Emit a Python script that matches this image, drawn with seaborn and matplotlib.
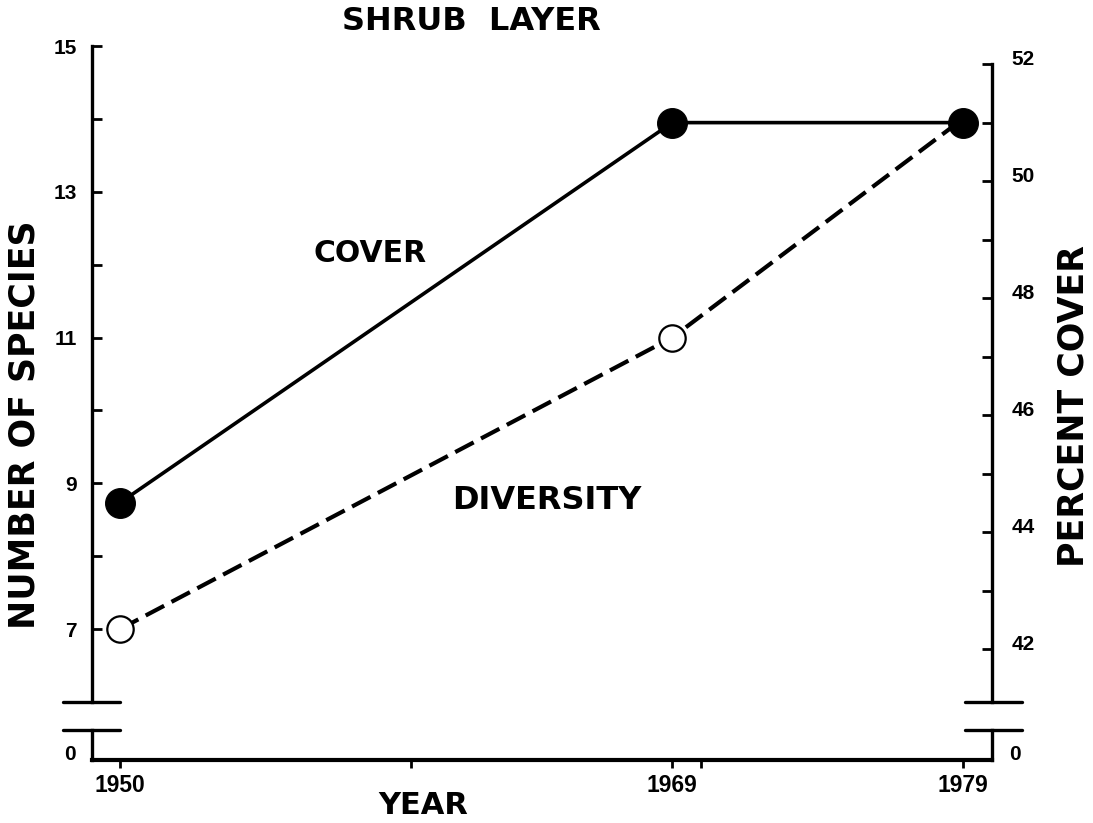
import matplotlib
matplotlib.use("Agg")
import matplotlib.pyplot as plt
import matplotlib.transforms as mtransforms
from matplotlib.lines import Line2D
from matplotlib.font_manager import FontProperties
import seaborn as sns

# ---- data ----
years = [1950, 1969, 1979]
cover_pct = [44.5, 51.0, 51.0]          # right axis, PERCENT COVER
diversity = [7.0, 11.0, 14.0]            # left axis, NUMBER OF SPECIES
left_major = [7, 9, 11, 13, 15]
left_minor = [8, 10, 12, 14]
right_major = [42, 44, 46, 48, 50, 52]
right_minor = [43, 45, 47, 49, 51]
x_ticks = [1950, 1960, 1969, 1970, 1979]
x_ticklabels = ["1950", "", "1969", "", "1979"]

sns.set_theme(style="white")
plt.rcParams["font.family"] = ["DejaVu Sans"]
plt.rcParams["font.weight"] = "bold"
plt.rcParams["text.color"] = "black"
plt.rcParams["axes.labelcolor"] = "black"
plt.rcParams["xtick.color"] = "black"
plt.rcParams["ytick.color"] = "black"
plt.rcParams["xtick.labelcolor"] = "black"
plt.rcParams["ytick.labelcolor"] = "black"

W, H = 1093, 823
fig = plt.figure(figsize=(W / 100, H / 100), dpi=100)

def fx(px):
    return px / W

def fy(py):
    return 1 - py / H

AX_L, AX_R, AX_T, AX_B = 92, 992, 46, 702
STRIP_T, STRIP_B = 730, 760
XLIM = (1949.04, 1980.0)
SPW = 2.4
TICKFONT = dict(family="Liberation Sans", weight="bold", size=15)

ax = fig.add_axes([fx(AX_L), fy(AX_B), fx(AX_R - AX_L), (AX_B - AX_T) / H])
ax2 = ax.twinx()
axb = fig.add_axes([fx(AX_L), fy(STRIP_B), fx(AX_R - AX_L), (STRIP_B - STRIP_T) / H])

# ---- lines ----
sns.lineplot(x=years, y=diversity, ax=ax, color="black", linewidth=3.0,
             linestyle=(0, (5, 2)), marker="o", markersize=19,
             markerfacecolor="white", markeredgecolor="black",
             markeredgewidth=1.6, markevery=[0, 1], zorder=3)
sns.lineplot(x=years, y=cover_pct, ax=ax2, color="black", linewidth=2.6,
             marker="o", markersize=21.5, markerfacecolor="black",
             markeredgecolor="black", zorder=4)

# ---- main (left) axis ----
ax.set_xlim(*XLIM)
ax.set_ylim(6, 15)
ax.set_xticks([])
ax.set_yticks(left_major)
ax.set_yticks(left_minor, minor=True)
ax.set_yticklabels([str(v) for v in left_major])
ax.tick_params(axis="y", which="both", direction="in", length=7, width=2,
               color="black", left=True, right=False, pad=11)
for lab in ax.get_yticklabels():
    lab.set_fontproperties(FontProperties(**TICKFONT))
    lab.set_color("black")
for s in ["top", "bottom", "right"]:
    ax.spines[s].set_visible(False)
ax.spines["left"].set_linewidth(SPW)
ax.spines["left"].set_color("black")
ax.set_xlabel("")
ax.set_ylabel("")
ax.patch.set_alpha(0)

# ---- right axis ----
ax2.set_xlim(*XLIM)
ax2.set_ylim(41.094, 52.31)
ax2.set_yticks(right_major)
ax2.set_yticks(right_minor, minor=True)
ax2.set_yticklabels([str(v) for v in right_major])
ax2.tick_params(axis="y", which="both", direction="in", length=7, width=2,
                color="black", right=True, left=False, pad=14)
off = mtransforms.ScaledTranslation(0, 7 / 100, fig.dpi_scale_trans)
for lab in ax2.get_yticklabels():
    lab.set_fontproperties(FontProperties(**TICKFONT))
    lab.set_color("black")
    lab.set_transform(lab.get_transform() + off)
for s in ["top", "bottom", "left"]:
    ax2.spines[s].set_visible(False)
ax2.spines["right"].set_linewidth(SPW)
ax2.spines["right"].set_color("black")
ax2.spines["right"].set_bounds(41.094, 52.0)
ax2.set_ylabel("")
ax2.set_xlabel("")

# ---- bottom strip (0 after axis break) ----
axb.set_xlim(*XLIM)
axb.set_ylim(0, 1)
axb.patch.set_alpha(0)
axb.set_xticks(x_ticks)
axb.set_xticklabels(x_ticklabels)
axb.tick_params(axis="x", direction="out", length=6, width=2, color="black",
                pad=4, bottom=True)
for lab in axb.get_xticklabels():
    lab.set_fontproperties(FontProperties(family="Liberation Sans",
                                          weight="bold", size=16.5))
    lab.set_color("black")
axb.set_yticks([0])
axb.set_yticklabels(["0"])
axb.tick_params(axis="y", length=0, left=True, right=True, labelleft=True,
                labelright=True, pad=12)
off0 = mtransforms.ScaledTranslation(0, 8 / 100, fig.dpi_scale_trans)
for t in axb.yaxis.get_major_ticks():
    for lab in (t.label1, t.label2):
        lab.set_fontproperties(FontProperties(**TICKFONT))
        lab.set_color("black")
        lab.set_transform(lab.get_transform() + off0)
axb.spines["top"].set_visible(False)
for s in ["left", "right", "bottom"]:
    axb.spines[s].set_linewidth(SPW)
    axb.spines[s].set_color("black")
axb.spines["bottom"].set_linewidth(3.0)

# ---- break marks ----
for (x0, x1) in [(63, 120), (965, 1022)]:
    for yy in (AX_B, STRIP_T):
        fig.add_artist(Line2D([fx(x0), fx(x1)], [fy(yy), fy(yy)],
                              color="black", linewidth=2.4,
                              transform=fig.transFigure))

# ---- texts ----
fig.text(fx(471), fy(22), "SHRUB  LAYER", ha="center", va="center",
         fontsize=23, fontweight="bold", color="black")
fig.text(fx(423), fy(806), "YEAR", ha="center", va="center",
         fontsize=22, fontweight="bold", color="black")
fig.text(fx(25), fy(425), "NUMBER OF SPECIES", ha="center", va="center",
         rotation=90, fontsize=25, fontweight="bold", color="black")
fig.text(fx(1073), fy(406), "PERCENT COVER", ha="center", va="center",
         rotation=90, fontsize=25, fontweight="bold", color="black")
ax.text(1958.6, 12.15, "COVER", ha="center", va="center", fontsize=21.5,
        fontweight="bold", color="black")
ax.text(1964.7, 8.77, "DIVERSITY", ha="center", va="center", fontsize=23,
        fontweight="bold", color="black")

fig.savefig("out.png", dpi=100, facecolor="white")
